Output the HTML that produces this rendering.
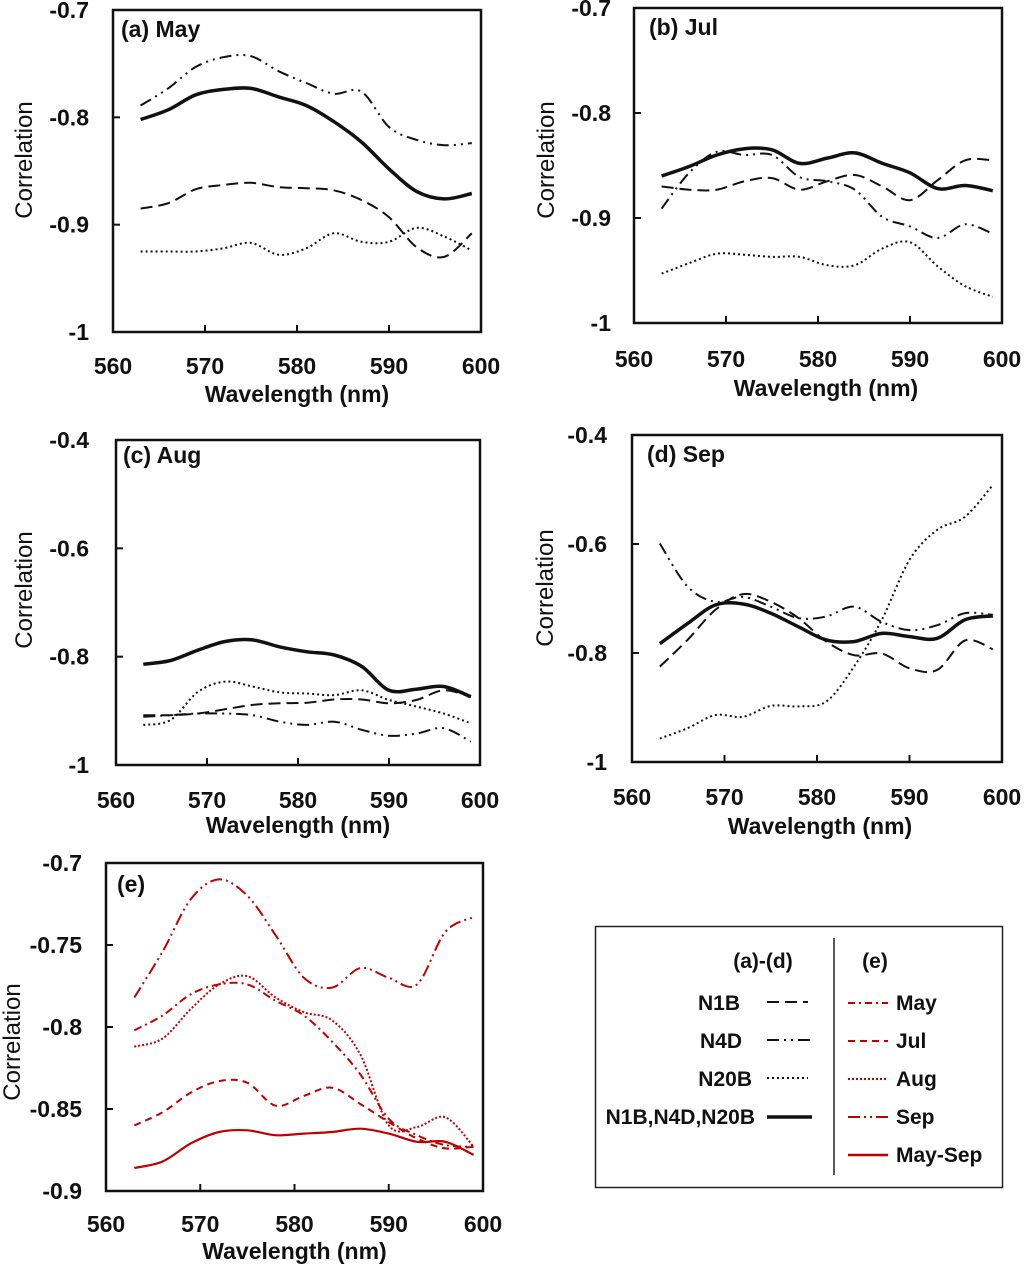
<!DOCTYPE html>
<html><head><meta charset="utf-8"><style>
html,body{margin:0;padding:0;background:#fff;}
svg{display:block;font-family:"Liberation Sans",sans-serif;}
.tk{font-size:23px;font-weight:bold;fill:#111;}
.ttl{font-size:23px;font-weight:bold;fill:#111;}
.yt{font-size:24px;fill:#111;}
.lg{font-size:21px;font-weight:bold;fill:#111;}
</style></head><body>
<svg id="fig" width="1024" height="1264" viewBox="0 0 1024 1264" xmlns="http://www.w3.org/2000/svg">
<g id="legend">
<rect x="595.5" y="926.5" width="407" height="261" fill="none" stroke="#222" stroke-width="1.5"/>
<line x1="834" y1="938" x2="834" y2="1175" stroke="#222" stroke-width="1.5"/>
<text class="lg" x="763" y="968" text-anchor="middle">(a)-(d)</text>
<text class="lg" x="875" y="968" text-anchor="middle">(e)</text>
<g><text class="lg" x="740" y="1010" text-anchor="end">N1B</text><line x1="767" y1="1002" x2="808" y2="1002" stroke="#111" stroke-width="2" stroke-dasharray="12,6"/></g>
<g><text class="lg" x="742" y="1048" text-anchor="end">N4D</text><line x1="767" y1="1040" x2="811" y2="1040" stroke="#111" stroke-width="2" stroke-dasharray="12,5,2,5,2,5"/></g>
<g><text class="lg" x="752" y="1086" text-anchor="end">N20B</text><line x1="767" y1="1078" x2="808" y2="1078" stroke="#111" stroke-width="2" stroke-dasharray="2,3"/></g>
<g><text class="lg" x="755" y="1124" text-anchor="end">N1B,N4D,N20B</text><line x1="767" y1="1117" x2="812" y2="1117" stroke="#111" stroke-width="3.5"/></g>
<g><line x1="848" y1="1003" x2="888" y2="1003" stroke="#c00000" stroke-width="2" stroke-dasharray="7,4,2,4"/><text class="lg" x="896" y="1010">May</text></g>
<g><line x1="848" y1="1041" x2="888" y2="1041" stroke="#c00000" stroke-width="2" stroke-dasharray="7,5"/><text class="lg" x="896" y="1048">Jul</text></g>
<g><line x1="848" y1="1079" x2="888" y2="1079" stroke="#c00000" stroke-width="2" stroke-dasharray="2,2"/><text class="lg" x="896" y="1086">Aug</text></g>
<g><line x1="848" y1="1117" x2="888" y2="1117" stroke="#c00000" stroke-width="2" stroke-dasharray="12,4,2,4,2,4"/><text class="lg" x="896" y="1124">Sep</text></g>
<g><line x1="848" y1="1155" x2="888" y2="1155" stroke="#c00000" stroke-width="2.5"/><text class="lg" x="896" y="1162">May-Sep</text></g>
</g>
</svg>
<script>
const wavelengths = [563,566,569,572,575,578,581,584,587,590,593,596,599];
const xTicks = [560,570,580,590,600];

const mayN1B  = [-0.885,-0.880,-0.867,-0.863,-0.861,-0.865,-0.866,-0.868,-0.877,-0.893,-0.921,-0.930,-0.908];
const mayN4D  = [-0.789,-0.773,-0.753,-0.744,-0.743,-0.757,-0.768,-0.778,-0.776,-0.809,-0.821,-0.826,-0.824];
const mayN20B = [-0.925,-0.925,-0.925,-0.922,-0.917,-0.928,-0.922,-0.908,-0.916,-0.916,-0.903,-0.911,-0.924];
const mayAll  = [-0.802,-0.793,-0.779,-0.774,-0.773,-0.781,-0.789,-0.804,-0.823,-0.848,-0.869,-0.876,-0.871];

const julN1B  = [-0.870,-0.873,-0.873,-0.865,-0.862,-0.873,-0.865,-0.859,-0.870,-0.883,-0.864,-0.845,-0.845];
const julN4D  = [-0.891,-0.857,-0.837,-0.840,-0.840,-0.861,-0.865,-0.873,-0.899,-0.908,-0.919,-0.906,-0.915];
const julN20B = [-0.953,-0.943,-0.934,-0.935,-0.937,-0.937,-0.945,-0.945,-0.929,-0.923,-0.946,-0.965,-0.975];
const julAll  = [-0.860,-0.851,-0.840,-0.834,-0.835,-0.848,-0.843,-0.838,-0.848,-0.857,-0.872,-0.869,-0.874];

const augN1B  = [-0.908,-0.908,-0.905,-0.897,-0.889,-0.886,-0.885,-0.879,-0.879,-0.886,-0.880,-0.862,-0.874];
const augN4D  = [-0.911,-0.908,-0.905,-0.905,-0.908,-0.920,-0.926,-0.920,-0.935,-0.946,-0.942,-0.932,-0.957];
const augN20B = [-0.926,-0.917,-0.865,-0.846,-0.855,-0.866,-0.868,-0.871,-0.862,-0.880,-0.892,-0.905,-0.923];
const augAll  = [-0.814,-0.807,-0.788,-0.772,-0.769,-0.782,-0.791,-0.797,-0.818,-0.862,-0.860,-0.855,-0.874];

const sepN1B  = [-0.825,-0.776,-0.721,-0.692,-0.706,-0.736,-0.779,-0.804,-0.801,-0.828,-0.831,-0.777,-0.793];
const sepN4D  = [-0.599,-0.678,-0.706,-0.697,-0.715,-0.736,-0.733,-0.715,-0.743,-0.758,-0.749,-0.727,-0.730];
const sepN20B = [-0.957,-0.938,-0.914,-0.917,-0.897,-0.898,-0.889,-0.825,-0.739,-0.629,-0.574,-0.550,-0.492];
const sepAll  = [-0.783,-0.746,-0.712,-0.710,-0.727,-0.752,-0.776,-0.779,-0.764,-0.770,-0.773,-0.739,-0.732];

const eMay    = [-0.802,-0.793,-0.780,-0.774,-0.774,-0.784,-0.793,-0.809,-0.829,-0.856,-0.866,-0.872,-0.873];
const eJul    = [-0.860,-0.852,-0.840,-0.833,-0.834,-0.848,-0.842,-0.837,-0.847,-0.858,-0.868,-0.874,-0.873];
const eAug    = [-0.812,-0.807,-0.789,-0.774,-0.769,-0.782,-0.791,-0.796,-0.817,-0.860,-0.861,-0.855,-0.873];
const eSep    = [-0.782,-0.754,-0.722,-0.710,-0.720,-0.744,-0.770,-0.776,-0.764,-0.770,-0.774,-0.742,-0.733];
const eMaySep = [-0.886,-0.882,-0.871,-0.864,-0.863,-0.866,-0.865,-0.864,-0.862,-0.865,-0.870,-0.870,-0.878];

const aTicks = [-0.7,-0.8,-0.9,-1];
const cTicks = [-0.4,-0.6,-0.8,-1];
const eTicks = [-0.7,-0.75,-0.8,-0.85,-0.9];

const NS = "http://www.w3.org/2000/svg";
const svg = document.getElementById('fig');
function mk(tag, attrs, parent){const e=document.createElementNS(NS,tag);for(const k in attrs)e.setAttribute(k,attrs[k]);(parent||svg).appendChild(e);return e;}
function smooth(pts){
  let d="M"+pts[0][0].toFixed(1)+","+pts[0][1].toFixed(1);
  for(let i=0;i<pts.length-1;i++){
    const p0=pts[i-1]||pts[i],p1=pts[i],p2=pts[i+1],p3=pts[i+2]||p2;
    const c1=[p1[0]+(p2[0]-p0[0])/6,p1[1]+(p2[1]-p0[1])/6];
    const c2=[p2[0]-(p3[0]-p1[0])/6,p2[1]-(p3[1]-p1[1])/6];
    d+=" C"+c1[0].toFixed(1)+","+c1[1].toFixed(1)+" "+c2[0].toFixed(1)+","+c2[1].toFixed(1)+" "+p2[0].toFixed(1)+","+p2[1].toFixed(1);
  }
  return d;
}
const BK="#111", RD="#c00000";
const stN1B={stroke:BK,w:2,dash:"12,6"}, stN4D={stroke:BK,w:2,dash:"12,5,2,5,2,5"}, stN20B={stroke:BK,w:2,dash:"2,3"}, stAll={stroke:BK,w:3.5,dash:""};

function panel(cfg){
  const g=mk('g',{});
  
  
  const {L,R,T,B,ymax,ymin}=cfg;
  const xs=w=>L+(w-560)/40*(R-L);
  const ys=v=>T+(ymax-v)/(ymax-ymin)*(B-T);
  const frame=mk('rect',{x:L,y:T,width:R-L,height:B-T,fill:"none",stroke:"#111","stroke-width":2.5},g);
  
  
  xTicks.forEach(t=>{
    const x=xs(t);
    if(t>560&&t<600) mk('line',{x1:x,y1:B,x2:x,y2:B-7,stroke:"#111","stroke-width":2},g);
    const tx=mk('text',{x:x,y:cfg.xty,"text-anchor":"middle",class:"tk"},g);
    tx.textContent=t;
    
    
  });
  cfg.yticks.forEach(t=>{
    const y=ys(t);
    if(t<ymax&&t>ymin) mk('line',{x1:L,y1:y,x2:L+7,y2:y,stroke:"#111","stroke-width":2},g);
    const tx=mk('text',{x:cfg.ytx,y:y+8,"text-anchor":"end",class:"tk"},g);
    tx.textContent=String(t);
    
    
  });
  const xl=mk('text',{x:(L+R)/2+cfg.xlo,y:cfg.xly,"text-anchor":"middle",class:"ttl"},g);
  xl.textContent="Wavelength (nm)";
  
  
  const yl=mk('text',{x:0,y:0,"text-anchor":"middle",class:"yt",transform:`translate(${cfg.ylx},${cfg.yly}) rotate(-90)`},g);
  yl.textContent="Correlation";
  
  
  const pt=mk('text',{x:cfg.tx,y:cfg.ty,class:"ttl"},g);
  pt.textContent=cfg.title;
  
  
  cfg.series.forEach(s=>{
    const pts=wavelengths.map((w,i)=>[xs(w),ys(s.v[i])]);
    const p=mk('path',{d:smooth(pts),fill:"none",stroke:s.st.stroke,"stroke-width":s.st.w,"stroke-dasharray":s.st.dash,"stroke-linejoin":"round"},g);
    
    
  });
}
panel({name:"panel-a-may",L:113,R:481,T:10,B:332,ymax:-0.7,ymin:-1,yticks:aTicks,ytx:89,xty:374,xly:402,xlo:0,ylx:32,yly:160,tx:121,ty:37,title:"(a) May",
  series:[{name:"may-n1b-line",v:mayN1B,st:stN1B},{name:"may-n4d-line",v:mayN4D,st:stN4D},{name:"may-n20b-line",v:mayN20B,st:stN20B},{name:"may-combined-line",v:mayAll,st:stAll}]});
panel({name:"panel-b-jul",L:634,R:1002,T:8,B:323,ymax:-0.7,ymin:-1,yticks:aTicks,ytx:611,xty:367,xly:396,xlo:8,ylx:554,yly:160,tx:649,ty:35,title:"(b) Jul",
  series:[{name:"jul-n1b-line",v:julN1B,st:stN1B},{name:"jul-n4d-line",v:julN4D,st:stN4D},{name:"jul-n20b-line",v:julN20B,st:stN20B},{name:"jul-combined-line",v:julAll,st:stAll}]});
panel({name:"panel-c-aug",L:116,R:480,T:440,B:765,ymax:-0.4,ymin:-1,yticks:cTicks,ytx:89,xty:808,xly:833,xlo:0,ylx:32,yly:590,tx:123,ty:463,title:"(c) Aug",
  series:[{name:"aug-n1b-line",v:augN1B,st:stN1B},{name:"aug-n4d-line",v:augN4D,st:stN4D},{name:"aug-n20b-line",v:augN20B,st:stN20B},{name:"aug-combined-line",v:augAll,st:stAll}]});
panel({name:"panel-d-sep",L:632,R:1002,T:435,B:762,ymax:-0.4,ymin:-1,yticks:cTicks,ytx:607,xty:805,xly:834,xlo:3,ylx:553,yly:588,tx:647,ty:462,title:"(d) Sep",
  series:[{name:"sep-n1b-line",v:sepN1B,st:stN1B},{name:"sep-n4d-line",v:sepN4D,st:stN4D},{name:"sep-n20b-line",v:sepN20B,st:stN20B},{name:"sep-combined-line",v:sepAll,st:stAll}]});
panel({name:"panel-e-all-months",L:106,R:483,T:863,B:1191,ymax:-0.7,ymin:-0.9,yticks:eTicks,ytx:82,xty:1232,xly:1259,xlo:0,ylx:20,yly:1042,tx:117,ty:892,title:"(e)",
  series:[{name:"e-sep-line",v:eSep,st:{stroke:RD,w:2,dash:"12,4,2,4,2,4"}},{name:"e-may-line",v:eMay,st:{stroke:RD,w:2,dash:"8,4,2,4"}},{name:"e-aug-line",v:eAug,st:{stroke:RD,w:2,dash:"2,2"}},{name:"e-jul-line",v:eJul,st:{stroke:RD,w:2,dash:"7,5"}},{name:"e-may-sep-line",v:eMaySep,st:{stroke:RD,w:2.2,dash:""}}]});
</script>
</body></html>
